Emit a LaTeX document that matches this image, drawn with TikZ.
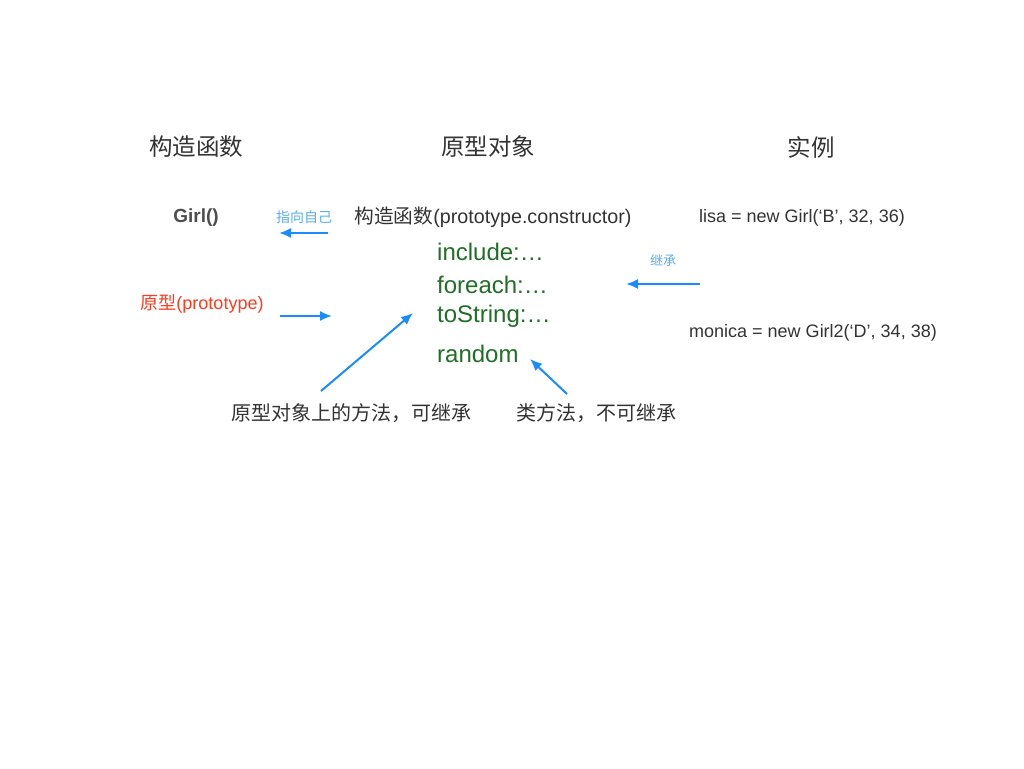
\documentclass[tikz,border=0pt]{standalone}
\usepackage{fontspec}
\setmainfont{Liberation Sans}
\newfontfamily\cjk{Noto Sans CJK SC}
\usetikzlibrary{arrows.meta}
\definecolor{txtgray}{HTML}{333333}
\definecolor{girlgray}{HTML}{4D4D4D}
\definecolor{protored}{HTML}{FF3B1E}
\definecolor{methgreen}{HTML}{1F6F25}
\definecolor{arrowblue}{HTML}{1A8CFF}
\definecolor{noteblue}{HTML}{5AAEF0}
\newcommand{\fsz}[1]{\fontsize{#1}{#1}\selectfont}

\begin{document}
\begin{tikzpicture}[x=1pt,y=-1pt,
  every node/.style={inner sep=0pt,text=txtgray},
  heading/.style={font=\cjk\fsz{23.5}},
  plain/.style={font=\fsz{18}},
  method/.style={font=\fsz{24},text=methgreen,anchor=west},
  note/.style={font=\cjk\fsz{14},text=noteblue},
  link/.style={draw=arrowblue,line width=2pt,-{Latex[length=12pt,width=10pt]}}]
\fill[white] (0,0) rectangle (1024,768);
\useasboundingbox (0,0) rectangle (1024,768);
\node[heading] (ctorhead) at (196,147) {构造函数};
\node[heading] (protohead) at (488,147) {原型对象};
\node[heading] (insthead) at (811,147) {实例};
\node[font=\bfseries\fsz{19},text=girlgray] (girl) at (196,218) {Girl()};
\node[note] (self) at (304,217) {指向自己};
\node[font=\fsz{19.7}] (ctor) at (493,217) {{\cjk 构造函数}(prototype.constructor)};
\node[plain] (lisa) at (802,218) {lisa = new Girl(‘B’, 32, 36)};
\node[method] (include) at (437,252) {include:…};
\node[method] (foreach) at (437,285) {foreach:…};
\node[method] (tostring) at (437,316) {toString:…};
\node[method] (random) at (437,354) {random};
\node[note,font=\cjk\fsz{13}] (inherit) at (663,260) {继承};
\node[font=\fsz{18},text=protored] (proto) at (202,304) {{\cjk 原型}(prototype)};
\node[plain] (monica) at (813,333) {monica = new Girl2(‘D’, 34, 38)};
\node[font=\cjk\fsz{20}] (protometh) at (351,413) {原型对象上的方法，可继承};
\node[font=\cjk\fsz{20}] (classmeth) at (596,413) {类方法，不可继承};
\coordinate (selfA) at (328,233);
\coordinate (selfB) at (279,233);
\coordinate (inhA) at (700,284);
\coordinate (inhB) at (626,284);
\coordinate (protoA) at (280,316);
\coordinate (protoB) at (332,316);
\coordinate (pmA) at (321,391);
\coordinate (pmB) at (413,313);
\coordinate (cmA) at (567,394);
\coordinate (cmB) at (530,359);
\draw[link] (selfA) -- (selfB);
\draw[link] (inhA) -- (inhB);
\draw[link] (protoA) -- (protoB);
\draw[link] (pmA) -- (pmB);
\draw[link] (cmA) -- (cmB);
\end{tikzpicture}
\end{document}
